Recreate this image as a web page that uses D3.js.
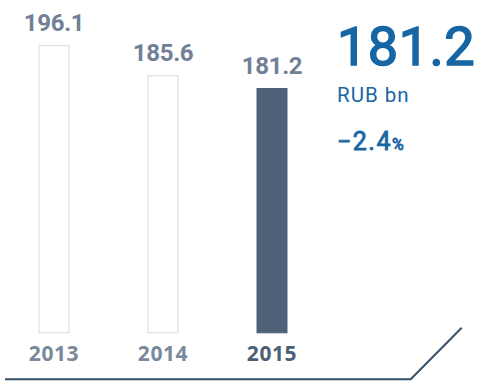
<!DOCTYPE html>
<html>
<head>
<meta charset="utf-8">
<script src="https://cdn.jsdelivr.net/npm/d3@7"></script>
<style>
  body { margin: 0; background: #fff; }
  svg { display: block; }
</style>
</head>
<body>
<svg id="chart"></svg>
<script>
// data
const years = ['2013', '2014', '2015'];
const values = [196.1, 185.6, 181.2];
const current = '2015';
const headline = '181.2';
const unit = 'RUB bn';
const change = '\u22122.4';

const width = 501, height = 387;
const svg = d3.select('#chart').attr('width', width).attr('height', height);

// scales
const x = d3.scaleBand()
  .domain(years)
  .range([38.5, 287.5])
  .paddingInner(0.7156)
  .paddingOuter(0);

const baseY = 333.3;
const y = d3.scaleLinear()
  .domain([96, 200])
  .range([baseY, baseY - 2.879 * 104]);

const rows = years.map((yr, i) => ({ year: yr, value: values[i] }));

// bars
svg.selectAll('.bar')
  .data(rows)
  .join('rect')
  .attr('class', 'bar')
  .attr('x', d => x(d.year) + 0.5)
  .attr('y', d => y(d.value) + 0.5)
  .attr('width', x.bandwidth() - 1)
  .attr('height', d => baseY - y(d.value) - 1)
  .attr('fill', d => d.year === current ? '#4f6178' : '#fff')
  .attr('stroke', d => d.year === current ? '#4f6178' : '#d6d9e3')
  .attr('stroke-width', 1);

// value labels
svg.selectAll('.val')
  .data(rows)
  .join('text')
  .attr('class', 'val')
  .attr('x', d => x(d.year) + x.bandwidth() / 2)
  .attr('y', d => y(d.value) - 14)
  .attr('text-anchor', 'middle')
  .attr('font-family', 'Roboto, sans-serif')
  .attr('font-weight', 700)
  .attr('font-size', 24)
  .attr('letter-spacing', -0.3)
  .attr('fill', '#718096')
  .text(d => d.value.toFixed(1));

// year labels
const xAxis = d3.axisBottom(x).tickSize(0).tickPadding(0);
const axisG = svg.append('g')
  .attr('transform', `translate(0, ${baseY})`)
  .call(xAxis);
axisG.select('.domain').remove();
axisG.selectAll('text')
  .attr('dy', 0)
  .attr('y', 27.4)
  .attr('font-family', '"Open Sans", sans-serif')
  .attr('font-weight', 700)
  .attr('font-size', 21)
  .attr('letter-spacing', 0.6)
  .attr('fill', d => d === current ? '#4d5f77' : '#7a889c');

// base line with slanted end
svg.append('path')
  .attr('d', 'M5,379.3 L410.7,379.3 L461.7,327.7')
  .attr('fill', 'none')
  .attr('stroke', '#34506a')
  .attr('stroke-width', 2);

// headline figures (medium weight: regular face with a thin outline)
const blue = '#1766a4';
svg.append('text')
  .attr('x', 337)
  .attr('y', 65)
  .attr('font-family', 'Roboto, sans-serif')
  .attr('font-size', 54)
  .attr('letter-spacing', 0.5)
  .attr('fill', blue)
  .attr('stroke', blue)
  .attr('stroke-width', 1.6)
  .text(headline);

svg.append('text')
  .attr('x', 337)
  .attr('y', 101.7)
  .attr('font-family', 'Roboto, sans-serif')
  .attr('font-size', 20.5)
  .attr('letter-spacing', 1)
  .attr('fill', blue)
  .text(unit);

const chg = svg.append('text')
  .attr('x', 337)
  .attr('y', 150)
  .attr('font-family', 'Roboto, sans-serif')
  .attr('font-size', 25)
  .attr('letter-spacing', 1.5)
  .attr('fill', blue)
  .attr('stroke', blue)
  .attr('stroke-width', 0.8);
chg.append('tspan').text(change);
chg.append('tspan').attr('font-size', 16).attr('letter-spacing', 0).text('%');
</script>
</body>
</html>
